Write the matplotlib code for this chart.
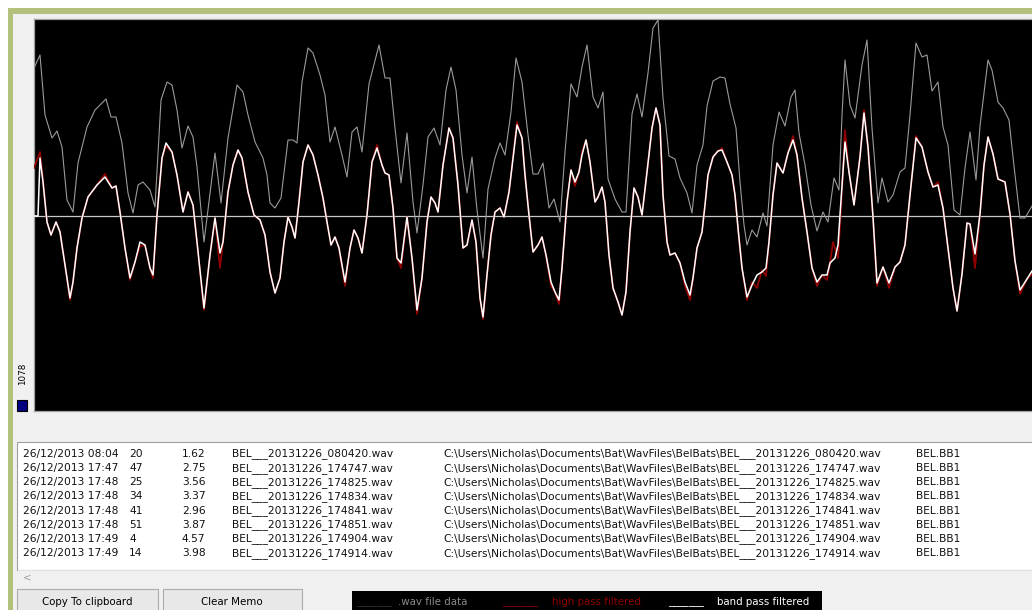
import matplotlib
matplotlib.use("Agg")
import matplotlib.pyplot as plt
from matplotlib.patches import Rectangle

W, H = 1032, 610

# waveform samples: (time, amplitude)
raw_pts = [(0, 148), (6, 161), (11, 101), (18, 78), (23, 85), (28, 69), (33, 16), (39, 4),
           (44, 53), (53, 89), (61, 106), (72, 117), (77, 99), (82, 99), (88, 73), (94, 23),
           (99, 3), (104, 31), (109, 34), (116, 26), (121, 9), (127, 116), (133, 134), (138, 131),
           (143, 106), (148, 68), (154, 90), (159, 79), (163, 49), (170, -26), (181, 63), (187, 13),
           (194, 78), (203, 131), (209, 124), (214, 101), (221, 74), (229, 58), (233, 41), (236, 13),
           (241, 8), (247, 18), (251, 51), (254, 76), (259, 76), (263, 73), (268, 134), (274, 168),
           (279, 163), (286, 141), (291, 121), (296, 74), (301, 89), (308, 61), (313, 39), (318, 84),
           (323, 89), (328, 64), (335, 132), (345, 171), (351, 138), (356, 138), (361, 88), (367, 33),
           (373, 83), (379, 14), (383, -17), (389, 31), (394, 79), (400, 88), (406, 71), (412, 126),
           (417, 149), (422, 126), (428, 61), (433, 23), (438, 59), (443, 6), (449, -42), (454, 27),
           (461, 58), (466, 73), (471, 61), (477, 104), (482, 158), (488, 134), (494, 81), (499, 42),
           (504, 42), (509, 53), (515, 8), (520, 17), (526, -6), (531, 64), (537, 132), (543, 119),
           (548, 149), (553, 171), (559, 119), (564, 108), (569, 124), (574, 37), (581, 17), (588, 4),
           (592, 4), (598, 102), (603, 122), (608, 99), (614, 143), (619, 188), (624, 196), (629, 118),
           (635, 60), (641, 57), (646, 38), (653, 23), (658, 3), (663, 51), (669, 71), (673, 110),
           (679, 135), (686, 139), (691, 138), (696, 112), (702, 88), (706, 34), (710, -9), (713, -29),
           (718, -14), (723, -21), (729, 3), (733, -10), (739, 71), (745, 104), (751, 90), (757, 119),
           (761, 126), (765, 83), (771, 51), (777, 11), (783, -15), (789, 4), (794, -6), (800, 38),
           (805, 26), (808, 101), (811, 156), (816, 111), (821, 98), (828, 151), (833, 176), (838, 88),
           (844, 13), (848, 38), (854, 14), (859, 21), (866, 44), (871, 48), (876, 101), (882, 173),
           (888, 159), (893, 161), (898, 125), (904, 134), (909, 89), (914, 71), (920, 6), (926, 1),
           (931, 48), (936, 84), (942, 36), (946, 90), (954, 156), (958, 146), (964, 114), (969, 108),
           (975, 96), (980, 50), (986, -2), (991, -2), (998, 10)]

band_pts = [(0, 0), (4, 0), (6, 58), (9, 34), (13, -6), (17, -19), (22, -6), (26, -16), (29, -36),
            (33, -62), (36, -82), (39, -66), (43, -32), (48, -2), (54, 19), (63, 31), (71, 39),
            (78, 28), (82, 30), (86, 4), (91, -32), (96, -62), (101, -46), (106, -26), (111, -29),
            (116, -52), (119, -59), (123, 1), (128, 58), (132, 73), (138, 64), (143, 41), (149, 4),
            (154, 24), (159, 11), (163, -26), (170, -92), (176, -39), (181, -2), (186, -37), (189, -26),
            (194, 24), (199, 51), (204, 66), (208, 58), (214, 24), (220, 1), (226, -4), (231, -19),
            (236, -56), (241, -77), (246, -62), (250, -26), (254, -1), (258, -11), (261, -22), (265, 14),
            (269, 54), (274, 71), (279, 61), (284, 41), (289, 18), (293, -6), (297, -29), (301, -21),
            (305, -32), (311, -66), (316, -32), (320, -14), (324, -22), (328, -37), (333, 1), (338, 54),
            (343, 68), (348, 51), (351, 43), (355, 41), (359, 8), (363, -42), (367, -47), (373, -1),
            (378, -42), (383, -94), (388, -62), (393, -6), (397, 19), (401, 13), (404, 4), (409, 51),
            (415, 88), (419, 78), (424, 31), (429, -32), (433, -29), (438, -4), (442, -26), (446, -82),
            (449, -101), (453, -59), (457, -19), (461, 4), (466, 8), (470, -1), (475, 24), (483, 91),
            (488, 78), (491, 41), (495, 1), (499, -36), (504, -29), (508, -21), (512, -39), (517, -66),
            (521, -76), (525, -84), (528, -52), (533, 14), (537, 46), (541, 34), (545, 44), (548, 61),
            (552, 76), (556, 54), (561, 14), (564, 19), (568, 29), (571, 14), (575, -39), (579, -72),
            (584, -86), (588, -99), (592, -76), (596, -16), (600, 28), (604, 19), (608, 1), (613, 44),
            (618, 88), (622, 108), (626, 91), (629, 21), (633, -26), (636, -39), (641, -37), (646, -47),
            (651, -66), (656, -79), (659, -62), (663, -32), (668, -16), (671, 11), (674, 41), (679, 59),
            (684, 65), (688, 66), (693, 54), (698, 41), (701, 21), (704, -12), (708, -52), (713, -81),
            (718, -69), (723, -59), (728, -56), (732, -52), (735, -26), (739, 21), (743, 53), (749, 43),
            (754, 63), (759, 76), (763, 61), (768, 18), (773, -16), (778, -52), (783, -66), (788, -59),
            (793, -59), (796, -47), (801, -42), (804, -29), (806, 1), (809, 44), (811, 74), (815, 44),
            (820, 11), (826, 59), (830, 103), (834, 69), (839, -1), (843, -67), (849, -51), (855, -67),
            (861, -51), (866, -46), (871, -29), (876, 21), (882, 78), (888, 69), (894, 44), (899, 29),
            (904, 31), (909, 8), (914, -32), (919, -72), (923, -95), (928, -58), (933, -7), (936, -8),
            (941, -38), (946, 2), (950, 51), (954, 79), (959, 62), (964, 37), (971, 34), (976, 2),
            (981, -45), (986, -74), (993, -63), (998, -55)]

high_pts = [(0, 48), (6, 64), (9, 36), (13, -6), (17, -19), (22, -6), (26, -16), (29, -36),
            (33, -62), (36, -84), (39, -66), (43, -32), (48, -2), (54, 19), (63, 31), (71, 42),
            (78, 28), (82, 30), (86, 4), (91, -32), (96, -64), (101, -46), (106, -30), (111, -29),
            (116, -52), (119, -62), (123, 1), (128, 58), (132, 70), (138, 64), (143, 41), (149, 4),
            (154, 24), (159, 11), (163, -26), (170, -94), (176, -39), (181, -2), (186, -52), (189, -26),
            (194, 24), (199, 51), (204, 66), (208, 58), (214, 24), (220, 1), (226, -4), (231, -19),
            (236, -56), (241, -77), (246, -62), (250, -26), (254, -1), (258, -11), (261, -22), (265, 14),
            (269, 54), (274, 71), (279, 61), (284, 41), (289, 18), (293, -6), (297, -29), (301, -21),
            (305, -32), (311, -70), (316, -32), (320, -14), (324, -22), (328, -37), (333, 1), (338, 54),
            (343, 71), (348, 51), (351, 43), (355, 41), (359, 8), (363, -42), (367, -52), (373, -1),
            (378, -42), (383, -98), (388, -62), (393, -6), (397, 19), (401, 13), (404, 4), (409, 51),
            (415, 88), (419, 78), (424, 31), (429, -32), (433, -29), (438, -4), (442, -26), (446, -82),
            (449, -103), (453, -59), (457, -19), (461, 4), (466, 8), (470, -1), (475, 24), (483, 94),
            (488, 78), (491, 41), (495, 1), (499, -36), (504, -29), (508, -21), (512, -39), (517, -70),
            (521, -76), (525, -88), (528, -52), (533, 14), (537, 46), (541, 30), (545, 44), (548, 64),
            (552, 76), (556, 54), (561, 14), (564, 19), (568, 29), (571, 14), (575, -39), (579, -72),
            (584, -86), (588, -99), (592, -76), (596, -16), (600, 28), (604, 19), (608, 1), (613, 44),
            (618, 88), (622, 108), (626, 91), (629, 21), (633, -26), (636, -39), (641, -37), (646, -47),
            (651, -70), (656, -84), (659, -62), (663, -32), (668, -16), (671, 11), (674, 41), (679, 59),
            (684, 65), (688, 68), (693, 54), (698, 41), (701, 21), (704, -12), (708, -52), (713, -84),
            (718, -66), (723, -72), (728, -54), (732, -60), (735, -26), (739, 21), (743, 53), (749, 43),
            (754, 63), (759, 80), (763, 61), (768, 18), (773, -16), (778, -52), (783, -70), (788, -59),
            (793, -64), (796, -47), (799, -26), (804, -42), (806, -10), (809, 44), (811, 86), (815, 44),
            (820, 11), (826, 59), (830, 106), (834, 69), (839, -1), (843, -70), (849, -51), (855, -72),
            (861, -51), (866, -46), (871, -29), (876, 21), (882, 80), (888, 69), (894, 44), (899, 29),
            (904, 34), (909, 8), (914, -32), (919, -72), (923, -95), (928, -58), (933, -7), (936, -8),
            (941, -52), (946, 2), (950, 51), (954, 79), (959, 62), (964, 37), (971, 34), (976, 2),
            (981, -45), (986, -78), (993, -63), (998, -58)]

# memo rows
dates = ["26/12/2013 08:04", "26/12/2013 17:47", "26/12/2013 17:48", "26/12/2013 17:48",
         "26/12/2013 17:48", "26/12/2013 17:48", "26/12/2013 17:49", "26/12/2013 17:49"]
counts = [20, 47, 25, 34, 41, 51, 4, 14]
levels = [1.62, 2.75, 3.56, 3.37, 2.96, 3.87, 4.57, 3.98]
files = ["BEL___20131226_080420.wav", "BEL___20131226_174747.wav", "BEL___20131226_174825.wav",
         "BEL___20131226_174834.wav", "BEL___20131226_174841.wav", "BEL___20131226_174851.wav",
         "BEL___20131226_174904.wav", "BEL___20131226_174914.wav"]
folder = "C:\\Users\\Nicholas\\Documents\\Bat\\WavFiles\\BelBats\\"
station = "BEL.BB1"
scale_label = "1078"

FONT = "DejaVu Sans"
FS = 7.4
MEMO_FS = 7.7

fig = plt.figure(figsize=(W / 100, H / 100), dpi=100)
fig.patch.set_facecolor("#f0f0f0")

# window furniture, in pixel coordinates
ui = fig.add_axes([0, 0, 1, 1])
ui.set_xlim(0, W)
ui.set_ylim(H, 0)
ui.axis("off")

def rect(x, y, w, h, fc, ec="none", lw=0.0):
    ui.add_patch(Rectangle((x, y), w, h, facecolor=fc, edgecolor=ec, linewidth=lw))

rect(0, 0, W, 8, "white")
rect(0, 0, 8, H, "white")
rect(8, 8, W, 6, "#b2c27c")
rect(8, 8, 5, H, "#b2c27c")
rect(17, 442, W, 128, "white", "#a0a0a0", 0.8)
rect(18, 570, W, 18, "#f0f0f0")
ui.plot([18, W], [569.5, 569.5], color="#e3e3e3", lw=0.8)
ui.text(27, 578, "<", color="#a0a0a0", fontsize=FS, family=FONT, ha="center", va="center")
rect(17, 589, 141, 25, "#e8e8e8", "#acacac", 0.8)
rect(163, 589, 139, 25, "#e8e8e8", "#acacac", 0.8)
ui.text(87, 602, "Copy To clipboard", fontsize=FS, family=FONT, ha="center", va="center")
ui.text(232, 602, "Clear Memo", fontsize=FS, family=FONT, ha="center", va="center")
rect(17, 400, 10, 11, "#000080", "black", 0.8)
ui.text(23, 374, scale_label, rotation=90, fontsize=6.3, family=FONT, ha="center", va="center")

# colour key
rect(352, 591, 470, 19, "black")
key = [(356, "_______", "#303030"), (398, ".wav file data", "#8a8a8a"),
       (502, "_______", "#900000"), (552, "high pass filtered", "#900000"),
       (668, "_______", "white"), (717, "band pass filtered", "white")]
for kx, ktxt, kc in key:
    ui.text(kx, 602, ktxt, color=kc, fontsize=FS, family=FONT, ha="left", va="center")

# memo contents
for i in range(len(dates)):
    ry = 454 + 14.15 * i
    cells = [(23, dates[i]), (129, str(counts[i])), (182, f"{levels[i]:.2f}"),
             (232, files[i]), (443, folder + files[i]), (916, station)]
    for cx, ctxt in cells:
        ui.text(cx, ry, ctxt, fontsize=MEMO_FS, family=FONT, ha="left", va="center",
                color="#111111")

# waveform display
ax = fig.add_axes([34 / W, 1 - 411 / H, 1000 / W, 392 / H])
ax.set_facecolor("black")
ax.set_xlim(0, 1000)
ax.set_ylim(-195, 197)
ax.set_xticks([])
ax.set_yticks([])
for s in ax.spines.values():
    s.set_color("#a0a0a0")
    s.set_linewidth(0.9)

ax.axhline(0, color="#c8c8c8", lw=0.9, zorder=1)
t, v = zip(*raw_pts)
ax.plot(t, v, color="#9a9a9a", lw=0.8, zorder=2)
t, v = zip(*high_pts)
ax.plot(t, v, color="#900000", lw=1.3, zorder=3)
t, v = zip(*band_pts)
ax.plot(t, v, color="white", lw=1.1, zorder=4)

fig.savefig("out.png", dpi=100, facecolor=fig.get_facecolor())
